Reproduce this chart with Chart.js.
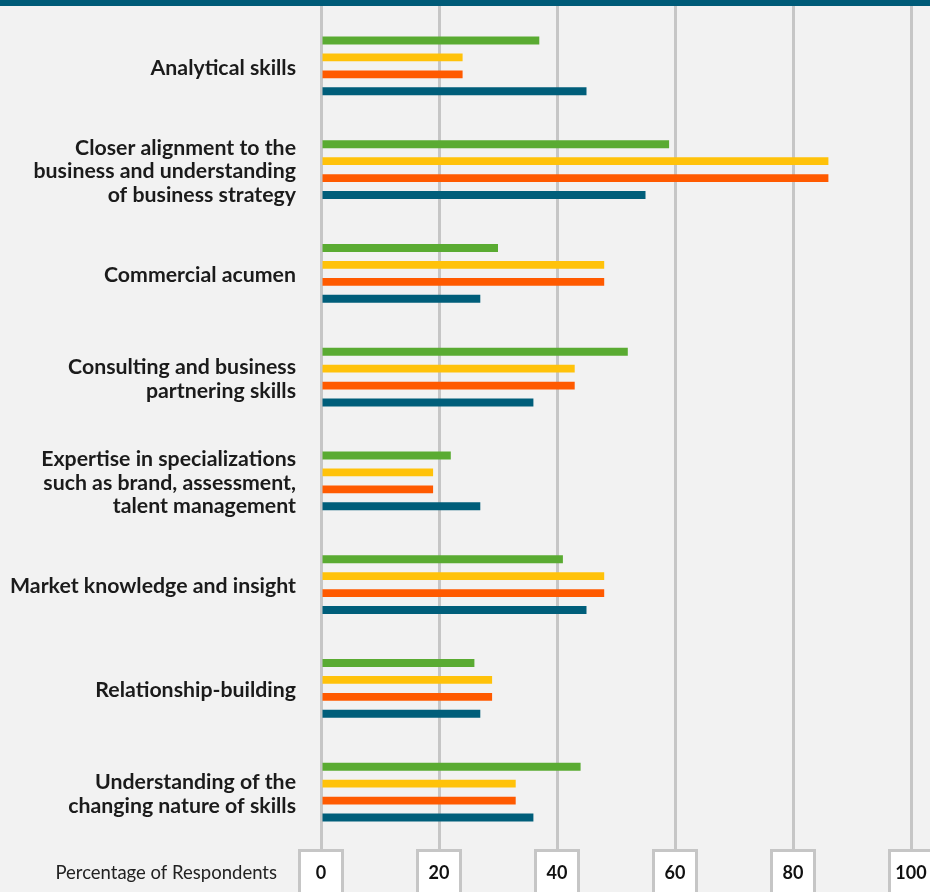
<!DOCTYPE html>
<html>
<head>
<meta charset="utf-8">
<title>Skills</title>
<script src="https://cdn.jsdelivr.net/npm/chart.js@4.4.1/dist/chart.umd.min.js"></script>
<style>
    html, body { margin: 0; padding: 0; background: #f2f2f2; overflow: hidden; }
    #band { height: 6px; background: #005b78; }
    canvas { display: block; }
</style>
</head>
<body>
<div id="band"></div>
<canvas id="skills" width="930" height="886"></canvas>
<script>
'use strict';

// 項目（改行は配列で）
var categories = [
    ["Analytical skills"],
    ["Closer alignment to the", "business and understanding", "of business strategy"],
    ["Commercial acumen"],
    ["Consulting and business", "partnering skills"],
    ["Expertise in specializations", "such as brand, assessment,", "talent management"],
    ["Market knowledge and insight"],
    ["Relationship-building"],
    ["Understanding of the", "changing nature of skills"]
];

// 系列ごとの値（%）
var greenValues  = [37, 59, 30, 52, 22, 41, 26, 44];
var yellowValues = [24, 86, 48, 43, 19, 48, 29, 33];
var orangeValues = [24, 86, 48, 43, 19, 48, 29, 33];
var tealValues   = [45, 55, 27, 36, 27, 45, 27, 36];

// 目盛り
var tickValues = [0, 20, 40, 60, 80, 100];
var axisLabel = "Percentage of Respondents";

var gridColor = "#c6c6c6";

Chart.defaults.font.family = "Lato, 'Open Sans', sans-serif";
Chart.defaults.color = "#1b1b1b";

function useTickValues(scale) {
    scale.ticks = tickValues.map(function(v) { return { value: v }; });
}

// 下の目盛りを枠付きの箱で描く
var tickBoxPlugin = {
    id: "tickBoxes",
    afterDraw: function(chart) {
        var ctx = chart.ctx;
        var xs = chart.scales.x;
        var top = chart.chartArea.bottom + 5 + 1.5;
        ctx.save();
        ctx.lineWidth = 3;
        ctx.strokeStyle = gridColor;
        ctx.textAlign = "center";
        ctx.textBaseline = "middle";
        ctx.font = "bold 18px Lato";
        tickValues.forEach(function(v) {
            var x = xs.getPixelForValue(v);
            ctx.fillStyle = "#ffffff";
            ctx.fillRect(x - 21.5, top, 43, 50);
            ctx.strokeRect(x - 21.5, top, 43, 50);
            ctx.fillStyle = "#111111";
            ctx.fillText(String(v), x, top + 22.5);
        });

        ctx.font = "18.5px Lato";
        ctx.textAlign = "right";
        ctx.fillStyle = "#222222";
        ctx.fillText(axisLabel, xs.getPixelForValue(0) - 44, top + 23);
        ctx.restore();
    }
};

var ctx = document.getElementById("skills").getContext("2d");
var chart = new Chart(ctx, {
    type: "bar",
    data: {
        labels: categories,
        datasets: [
            { label: "Series 1", data: greenValues,  backgroundColor: "#5aab32" },
            { label: "Series 2", data: yellowValues, backgroundColor: "#ffc20a" },
            { label: "Series 3", data: orangeValues, backgroundColor: "#ff5a00" },
            { label: "Series 4", data: tealValues,   backgroundColor: "#005e7a" }
        ]
    },
    options: {
        indexAxis: "y",
        responsive: false,
        animation: false,
        devicePixelRatio: 1,
        layout: {
            padding: { top: 0, right: 19, bottom: 43, left: 0 }
        },
        datasets: {
            bar: {
                categoryPercentage: 0.655,
                barPercentage: 0.47
            }
        },
        plugins: {
            legend: { display: false },
            tooltip: { enabled: false }
        },
        scales: {
            x: {
                position: "bottom",
                min: 0,
                max: 100,
                afterBuildTicks: useTickValues,
                ticks: { display: false },
                border: { display: false },
                grid: {
                    color: gridColor,
                    lineWidth: 3,
                    tickLength: 5
                }
            },
            // 上端まで縦線を伸ばすための軸
            x2: {
                position: "top",
                min: 0,
                max: 100,
                afterBuildTicks: useTickValues,
                ticks: { display: false },
                border: { display: false },
                grid: {
                    color: gridColor,
                    lineWidth: 3,
                    tickLength: 8,
                    drawOnChartArea: false
                }
            },
            y: {
                border: { display: false },
                grid: { display: false, drawTicks: false },
                afterFit: function(scale) {
                    scale.width = 321;
                    scale.paddingTop = 0;
                    scale.paddingBottom = 0;
                },
                ticks: {
                    padding: 25,
                    labelOffset: 2,
                    color: "#1b1b1b",
                    font: { size: 21.3, weight: "bold", lineHeight: 1.11 }
                }
            }
        }
    },
    plugins: [tickBoxPlugin]
});
</script>
</body>
</html>
